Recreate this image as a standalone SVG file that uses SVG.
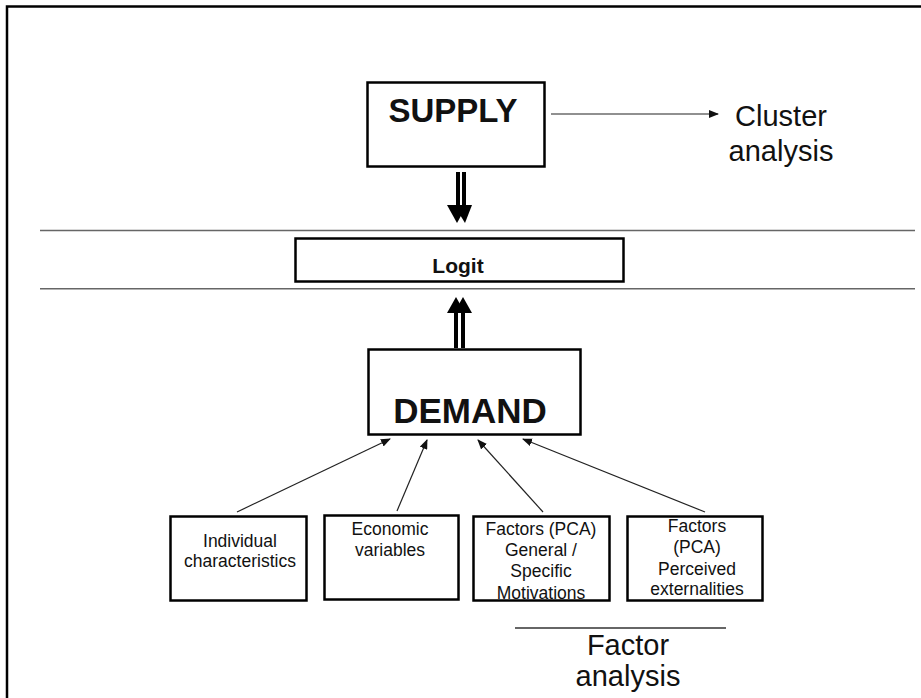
<svg xmlns="http://www.w3.org/2000/svg" width="921" height="698" viewBox="0 0 921 698">
<style>
.box{fill:#fff;stroke:#000;stroke-width:2.5}
.t{font-family:"Liberation Sans",Arial,sans-serif;fill:#111;text-anchor:middle}
.sm{font-size:17.5px}
.big{font-size:29px}
.b{font-weight:bold}
.rule{stroke:#666;stroke-width:1.6}
.thin{stroke:#222;stroke-width:1.2;fill:none;marker-end:url(#ah)}
.thick{stroke:#000;stroke-width:4}
</style>
<defs>
<marker id="ah" markerUnits="userSpaceOnUse" markerWidth="10" markerHeight="8" refX="9" refY="4" orient="auto">
<path d="M0,0 L10,4 L0,8 Z" fill="#111"/>
</marker>
</defs>
<path d="M7,698 V6.5 H921" fill="none" stroke="#000" stroke-width="2.5"/>
<line class="rule" x1="40" y1="230.5" x2="915" y2="230.5"/>
<line class="rule" x1="40" y1="288.7" x2="915" y2="288.7"/>

<g id="supply">
<rect class="box" x="367.5" y="82.5" width="177" height="84"/>
<text class="t b" x="453" y="122" font-size="33">SUPPLY</text>
</g>
<g id="cluster">
<text class="t big" x="781" y="126">Cluster</text>
<text class="t big" x="781" y="161">analysis</text>
</g>
<g id="logit">
<rect class="box" x="295.5" y="238.5" width="328" height="43"/>
<text class="t b" x="458" y="273" font-size="21">Logit</text>
</g>
<g id="demand">
<rect class="box" x="368.5" y="349.5" width="212" height="85"/>
<text class="t b" x="470" y="423" font-size="35">DEMAND</text>
</g>
<g id="individual">
<rect class="box" x="170.5" y="516.5" width="136" height="84"/>
<text class="t sm" x="240" y="547">Individual</text>
<text class="t sm" x="240" y="567">characteristics</text>
</g>
<g id="economic">
<rect class="box" x="324.5" y="515.5" width="134" height="84"/>
<text class="t sm" x="390" y="535">Economic</text>
<text class="t sm" x="390" y="556">variables</text>
</g>
<g id="motivations">
<text class="t sm" x="541" y="535">Factors (PCA)</text>
<text class="t sm" x="541" y="556">General /</text>
<text class="t sm" x="541" y="577">Specific</text>
<text class="t sm" x="541" y="599">Motivations</text>
<rect x="473.5" y="516.5" width="136" height="84" fill="none" stroke="#000" stroke-width="2.5"/>
</g>
<g id="externalities">
<rect class="box" x="627.5" y="516.5" width="135" height="84"/>
<text class="t sm" x="697" y="532">Factors</text>
<text class="t sm" x="697" y="553">(PCA)</text>
<text class="t sm" x="697" y="575">Perceived</text>
<text class="t sm" x="697" y="595">externalities</text>
</g>
<g id="factor-analysis">
<line x1="515" y1="628" x2="726" y2="628" stroke="#333" stroke-width="1.3"/>
<text class="t big" x="628" y="655">Factor</text>
<text class="t big" x="628" y="686">analysis</text>
</g>

<g id="connectors">
<line class="thin" x1="551" y1="114" x2="718" y2="114"/>
<line class="thick" x1="458" y1="172" x2="458" y2="207"/>
<line class="thick" x1="464" y1="172" x2="464" y2="207"/>
<polygon points="447,205 467,205 457,223" fill="#000"/>
<polygon points="454,205 472,205 465,223" fill="#000"/>
<line class="thick" x1="456" y1="348" x2="456" y2="310"/>
<line class="thick" x1="463" y1="348" x2="463" y2="310"/>
<polygon points="447,313 465,313 456,297" fill="#000"/>
<polygon points="454,313 472,313 463,297" fill="#000"/>
<line class="thin" x1="237" y1="512" x2="390" y2="439"/>
<line class="thin" x1="397" y1="511" x2="427" y2="440"/>
<line class="thin" x1="543" y1="512" x2="478" y2="440"/>
<line class="thin" x1="705" y1="512" x2="523" y2="439"/>
</g>
</svg>
